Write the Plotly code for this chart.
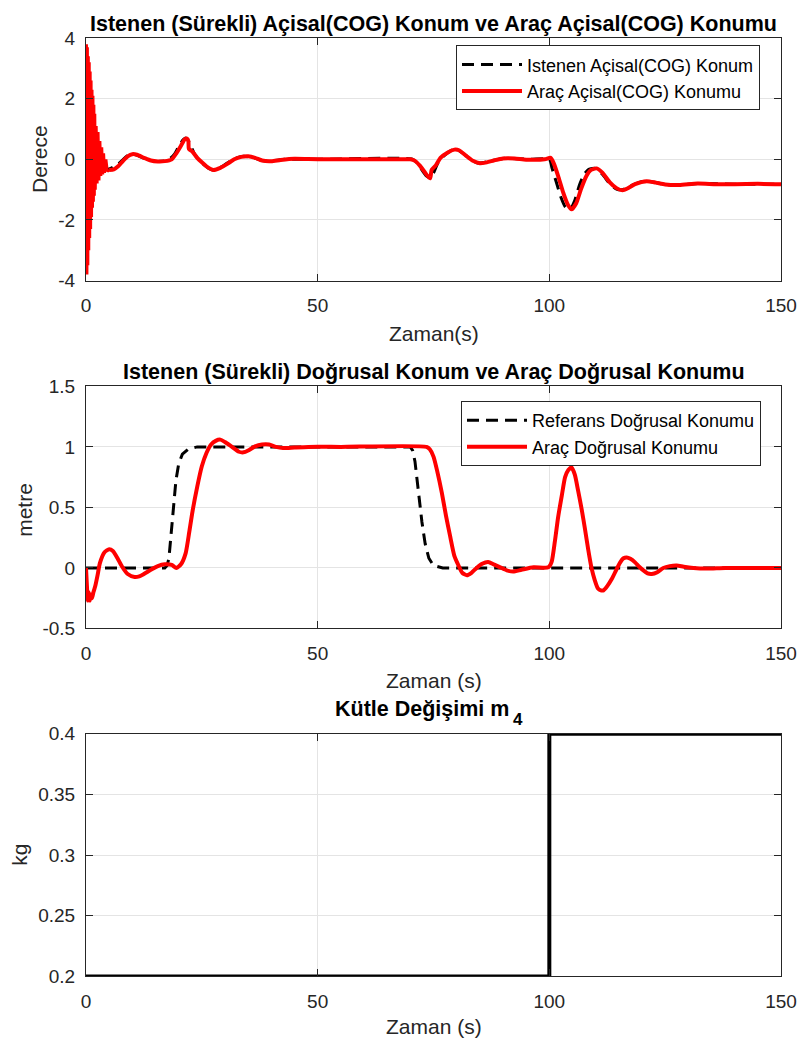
import plotly.graph_objects as go
from plotly.subplots import make_subplots

# ---------------- data ----------------
# Plot 1: angular (COG) position, degrees
ang_noise_t = [0.0, 0.1, 0.2, 0.3, 0.4, 0.5, 0.6, 0.7, 0.8, 0.9, 1.0, 1.1, 1.2, 1.3, 1.4,
               1.5, 1.6, 1.7, 1.8, 1.9, 2.0, 2.2, 2.4, 2.6, 2.8, 3.0, 3.2, 3.4, 3.6, 3.8,
               4.0, 4.3, 4.6, 5.0]
ang_noise_v = [0.0, 3.8, -3.8, 3.7, -3.5, 3.4, -3.0, 3.2, -2.6, 2.9, -2.3, 2.6, -1.9, 2.3, -1.6,
               2.1, -1.4, 1.8, -1.2, 1.5, -1.0, 1.1, -0.8, 0.9, -0.7, 0.6, -0.55, 0.4, -0.5, 0.2,
               -0.45, 0.0, -0.4, -0.35]

ang_veh_t = [5.0, 6.0, 7.0, 8.0, 9.0, 10.0, 11.0, 12.5, 14.0, 15.5, 17.0, 18.5, 19.5, 20.5,
             21.3, 21.8, 22.1, 22.2, 23.0, 24.0, 25.0, 26.0, 27.5, 29.0, 30.5, 32.0, 33.5,
             35.0, 36.5, 38.0, 40.0, 42.0, 45.0, 48.0, 52.0, 58.0, 65.0, 70.0, 71.0, 72.0,
             73.0, 74.0, 74.3, 74.6, 75.5, 76.5, 78.0, 79.5, 80.5, 82.0, 83.5, 85.0, 86.5,
             88.0, 90.0, 92.5, 95.0, 99.0, 100.3, 101.0, 102.0, 103.0, 104.0, 104.8, 105.8,
             106.8, 108.0, 109.0, 110.2, 111.5, 113.0, 114.5, 115.8, 117.0, 118.5, 121.0,
             123.0, 125.0, 128.0, 132.0, 136.0, 140.0, 145.0, 150.0]
ang_veh_v = [-0.35, -0.33, -0.22, -0.05, 0.1, 0.17, 0.15, 0.05, -0.04, -0.07, -0.06, 0.0, 0.2, 0.45,
             0.66, 0.68, 0.6, 0.35, 0.25, 0.05, -0.1, -0.23, -0.35, -0.28, -0.15, 0.0, 0.08,
             0.1, 0.05, -0.04, -0.06, -0.02, 0.02, 0.01, 0.0, 0.0, 0.0, 0.0, -0.05, -0.2,
             -0.4, -0.6, -0.62, -0.35, -0.2, 0.05, 0.22, 0.32, 0.3, 0.12, -0.05, -0.13, -0.1,
             -0.04, 0.03, 0.03, -0.01, 0.0, 0.05, -0.15, -0.6, -1.1, -1.5, -1.65, -1.45,
             -1.0, -0.55, -0.35, -0.3, -0.45, -0.75, -0.95, -1.02, -0.95, -0.82, -0.72,
             -0.77, -0.83, -0.85, -0.8, -0.82, -0.82, -0.81, -0.82]

ang_ref_t = [0.0, 2.0, 5.0, 7.0, 9.0, 10.5, 12.5, 15.0, 17.5, 19.0, 20.0, 21.0, 21.6, 22.3,
             23.5, 25.0, 26.5, 27.5, 29.0, 30.5, 32.0, 34.0, 36.0, 38.0, 40.0, 43.0, 50.0,
             70.5, 71.5, 72.5, 73.5, 74.3, 75.0, 76.0, 77.5, 79.0, 80.0, 81.5, 83.0, 84.5,
             86.0, 88.0, 90.0, 93.0, 96.0, 100.0, 100.6, 101.5, 102.5, 103.5, 104.5, 105.5,
             106.5, 107.5, 108.5, 110.0, 111.5, 113.0, 114.5, 115.8, 117.5, 120.0, 122.0,
             125.0, 128.0, 132.0, 140.0, 150.0]
ang_ref_v = [0.0, -0.3, -0.32, -0.15, 0.12, 0.16, 0.04, -0.07, -0.04, 0.15, 0.42, 0.65, 0.7, 0.55,
             0.15, -0.12, -0.3, -0.35, -0.27, -0.12, 0.02, 0.1, 0.06, -0.04, -0.05, 0.0, 0.0,
             0.0, -0.12, -0.35, -0.55, -0.6, -0.45, -0.1, 0.15, 0.3, 0.33, 0.18, 0.0, -0.12,
             -0.1, -0.03, 0.03, 0.02, 0.0, 0.0, -0.3, -0.75, -1.25, -1.58, -1.65, -1.35,
             -0.85, -0.5, -0.33, -0.3, -0.5, -0.8, -0.98, -1.0, -0.88, -0.73, -0.74,
             -0.83, -0.85, -0.8, -0.82, -0.82]

# Plot 2: linear position, metre
lin_ref_t = [0.0, 17.0, 17.5, 17.9, 18.3, 18.8, 19.4, 20.0, 20.8, 22.0, 24.0, 70.0, 70.5,
             71.0, 71.7, 72.5, 73.2, 74.0, 75.0, 77.0, 150.0]
lin_ref_v = [0.0, 0.0, 0.02, 0.08, 0.25, 0.5, 0.72, 0.86, 0.94, 0.98, 1.0, 1.0, 0.97,
             0.88, 0.64, 0.38, 0.2, 0.08, 0.02, 0.0, 0.0]

lin_veh_t = [0.0, 0.2, 0.4, 0.6, 0.8, 1.0, 1.3, 1.6, 2.0, 2.5, 3.0, 4.0, 5.0, 5.8, 6.8, 7.8,
             9.0, 10.5, 11.5, 12.5, 14.0, 15.5, 17.0, 18.5, 19.5, 20.5, 21.5, 22.3, 23.0,
             24.0, 25.0, 26.0, 27.0, 28.0, 29.0, 30.0, 31.5, 33.0, 34.0, 35.0, 36.5, 38.0,
             39.5, 41.0, 42.5, 45.0, 48.0, 55.0, 73.5, 74.2, 75.0, 75.8, 76.8, 77.7, 78.6,
             79.5, 80.4, 81.2, 82.2, 83.2, 84.3, 85.5, 86.8, 88.0, 89.4, 90.8, 92.2, 94.0,
             96.6, 99.8, 100.5, 101.2, 101.9, 102.7, 103.4, 104.1, 104.8, 105.5, 106.2,
             107.0, 107.7, 108.4, 109.1, 109.8, 110.5, 111.1, 111.7, 112.5, 113.5, 114.4,
             115.3, 116.0, 116.7, 117.5, 118.5, 119.4, 120.3, 121.2, 122.1, 123.3, 124.6,
             126.0, 127.5, 129.0, 131.1, 134.0, 138.0, 150.0]
lin_veh_v = [0.0, -0.15, -0.27, -0.2, -0.27, -0.22, -0.25, -0.2, -0.15, -0.06, 0.04, 0.13, 0.155,
             0.14, 0.08, 0.01, -0.05, -0.075, -0.07, -0.05, -0.015, 0.015, 0.03, 0.025, 0.0,
             0.03, 0.12, 0.3, 0.47, 0.67, 0.84, 0.95, 1.02, 1.05, 1.06, 1.04, 1.0, 0.96,
             0.955, 0.97, 1.005, 1.02, 1.02, 1.0, 0.99, 0.995, 1.0, 1.0, 1.0, 0.98, 0.92,
             0.8, 0.62, 0.43, 0.26, 0.1, 0.02, -0.04, -0.06, -0.04, 0.0, 0.035, 0.05, 0.03,
             0.005, -0.02, -0.03, -0.015, 0.005, 0.005, 0.05, 0.22, 0.42, 0.6, 0.75, 0.81,
             0.83, 0.77, 0.64, 0.48, 0.32, 0.15, 0.0, -0.1, -0.17, -0.185, -0.185, -0.15,
             -0.09, -0.02, 0.046, 0.08, 0.087, 0.075, 0.046, 0.01, -0.02, -0.045, -0.05,
             -0.035, 0.0, 0.015, 0.02, 0.01, 0.0, -0.005, 0.0, 0.0]

# Plot 3: mass change m4, kg
mass_t = [0.0, 100.0, 150.0]
mass_v = [0.2, 0.4, 0.4]

x_ticks = [0, 50, 100, 150]
y1_ticks = [-4, -2, 0, 2, 4]
y1_text = ["-4", "-2", "0", "2", "4"]
y2_ticks = [-0.5, 0, 0.5, 1, 1.5]
y2_text = ["-0.5", "0", "0.5", "1", "1.5"]
y3_ticks = [0.2, 0.25, 0.3, 0.35, 0.4]
y3_text = ["0.2", "0.25", "0.3", "0.35", "0.4"]

# ---------------- figure ----------------
W, H = 798, 1057
FONT = "Arial, Liberation Sans, Helvetica, sans-serif"
AX = "#262626"
RED = "#ff0000"

fig = make_subplots(rows=3, cols=1)

fig.add_trace(go.Scatter(x=ang_ref_t, y=ang_ref_v, mode="lines", name="Istenen Açisal(COG) Konum",
                         line=dict(color="black", width=3, dash="12px,7px", shape="spline", smoothing=0.6),
                         legend="legend"), row=1, col=1)
fig.add_trace(go.Scatter(x=ang_veh_t, y=ang_veh_v, mode="lines", name="Araç Açisal(COG) Konumu",
                         line=dict(color=RED, width=4, shape="spline", smoothing=0.6),
                         legend="legend"), row=1, col=1)
fig.add_trace(go.Scatter(x=ang_noise_t, y=ang_noise_v, mode="lines", showlegend=False,
                         line=dict(color=RED, width=3)), row=1, col=1)

fig.add_trace(go.Scatter(x=lin_ref_t, y=lin_ref_v, mode="lines", name="Referans Doğrusal Konumu",
                         line=dict(color="black", width=3, dash="12px,7px"),
                         legend="legend2"), row=2, col=1)
fig.add_trace(go.Scatter(x=lin_veh_t, y=lin_veh_v, mode="lines", name="Araç Doğrusal Konumu",
                         line=dict(color=RED, width=4, shape="spline", smoothing=0.6),
                         legend="legend2"), row=2, col=1)

fig.add_trace(go.Scatter(x=mass_t, y=mass_v, mode="lines", showlegend=False, cliponaxis=False,
                         line=dict(color="black", width=4, shape="hv")), row=3, col=1)

# plot areas in pixels
left, right = 86, 781
areas = [(28.7, 276.0), (384.0, 631.0), (738.3, 986.0)]


def pf(py):
    return 1 - py / H


def xf(px):
    return (px - left) / (right - left)


axis_common = dict(showline=True, linecolor=AX, linewidth=1, mirror="ticks", ticks="inside",
                   ticklen=7, tickcolor=AX, showgrid=True, gridcolor="#e4e4e4", gridwidth=1,
                   zeroline=False, tickfont=dict(family=FONT, size=19, color=AX))

for i, (top, bot) in enumerate(areas, start=1):
    xa = "xaxis" if i == 1 else f"xaxis{i}"
    ya = "yaxis" if i == 1 else f"yaxis{i}"
    fig.layout[xa].update(domain=[0, 1], range=[0, 150], tickvals=x_ticks,
                          ticklabelstandoff=8, **axis_common)
    fig.layout[ya].update(domain=[pf(bot), pf(top)], ticklabelstandoff=6, **axis_common)

fig.layout.yaxis.update(range=[-4, 4], tickvals=y1_ticks, ticktext=y1_text)
fig.layout.yaxis2.update(range=[-0.5, 1.5], tickvals=y2_ticks, ticktext=y2_text)
fig.layout.yaxis3.update(range=[0.2, 0.4], tickvals=y3_ticks, ticktext=y3_text)

TS = 21.5
annots = []
titles = [("Istenen (Sürekli) Açisal(COG) Konum ve Araç Açisal(COG) Konumu", 0.5, "center", 14),
          ("Istenen (Sürekli) Doğrusal Konum ve Araç Doğrusal Konumu", 0.5, "center", 369),
          ("Kütle Değişimi m", xf(511), "right", 713)]
for txt, x, xa, py in titles:
    annots.append(dict(text=f"<b>{txt}</b>", x=x, y=pf(py), xref="paper", yref="paper",
                       xanchor=xa, yanchor="middle", showarrow=False,
                       font=dict(family=FONT, size=TS, color="black")))
annots.append(dict(text="<b>4</b>", x=xf(518), y=pf(724), xref="paper", yref="paper",
                   xanchor="center", yanchor="middle", showarrow=False,
                   font=dict(family=FONT, size=17, color="black")))
xt = [("Zaman(s)", 330), ("Zaman (s)", 684), ("Zaman (s)", 1037)]
for txt, py in xt:
    annots.append(dict(text=txt, x=0.5, y=pf(py), xref="paper", yref="paper",
                       xanchor="center", yanchor="middle", showarrow=False,
                       font=dict(family=FONT, size=21, color=AX)))
yt = [("Derece", 40, 152), ("metre", 25, 510), ("kg", 20, 862)]
for txt, px, py in yt:
    annots.append(dict(text=txt, x=xf(px), y=pf(py), xref="paper", yref="paper",
                       xanchor="center", yanchor="middle", showarrow=False, textangle=-90,
                       font=dict(family=FONT, size=21, color=AX)))

legend_common = dict(bgcolor="white", bordercolor=AX, borderwidth=1, xanchor="right", yanchor="top",
                     font=dict(family=FONT, size=18, color="black"), itemwidth=60,
                     tracegroupgap=0)
fig.update_layout(
    width=W, height=H, margin=dict(l=left, r=W - right, t=0, b=0),
    paper_bgcolor="white", plot_bgcolor="white",
    font=dict(family=FONT, color=AX),
    showlegend=True,
    legend=dict(x=xf(760), y=pf(36), **legend_common),
    legend2=dict(x=xf(761), y=pf(399), **legend_common),
    annotations=annots,
)

fig.write_html("out.html")
